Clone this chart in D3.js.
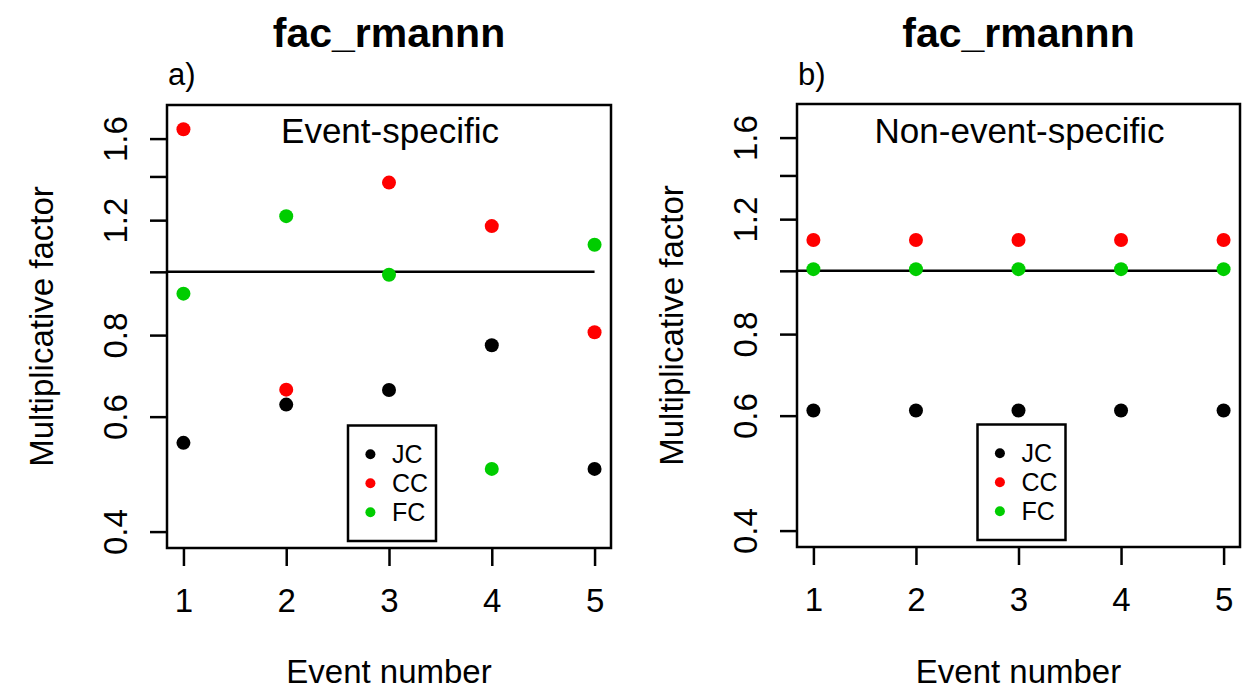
<!DOCTYPE html>
<html>
<head>
<meta charset="utf-8">
<script src="https://cdn.jsdelivr.net/npm/d3@7"></script>
<style>
  html, body { margin: 0; padding: 0; background: #fff; }
  svg { display: block; font-family: "Liberation Sans", Arial, Helvetica, sans-serif; }
</style>
</head>
<body>
<svg id="chart" width="1248" height="696"></svg>
<script>
// Event numbers on the x axis
const events = [1, 2, 3, 4, 5];

// Event-specific multiplicative factors
const specificJC = [0.547, 0.626, 0.659, 0.772, 0.499];
const specificCC = [1.654, 0.660, 1.370, 1.175, 0.808];
const specificFC = [0.926, 1.217, 0.990, 0.499, 1.100];

// Non-event-specific multiplicative factors
const nonSpecificJC = [0.611, 0.611, 0.611, 0.611, 0.611];
const nonSpecificCC = [1.115, 1.115, 1.115, 1.115, 1.115];
const nonSpecificFC = [1.006, 1.006, 1.006, 1.006, 1.006];

// Series names and colours
const seriesNames = ["JC", "CC", "FC"];
const seriesColors = ["#000000", "#ff0000", "#00cd00"];

// Y axis ticks (log scale); labels only where they fit
const yTicks = [0.4, 0.6, 0.8, 1.0, 1.2, 1.4, 1.6];
const yTickLabels = ["0.4", "0.6", "0.8", "", "1.2", "", "1.6"];
const yLimits = [0.4, 1.7];
const referenceLevel = 1.0;

const panels = [
  { tag: "a)", title: "fac_rmannn", note: "Event-specific",
    series: [specificJC, specificCC, specificFC],
    left: 167, right: 611, top: 105, bottom: 548 },
  { tag: "b)", title: "fac_rmannn", note: "Non-event-specific",
    series: [nonSpecificJC, nonSpecificCC, nonSpecificFC],
    left: 797, right: 1240, top: 104, bottom: 547 }
];

const svg = d3.select("#chart");
const font = 33;
const lineW = 2.5;

panels.forEach(p => {
  // R-style 4% padding around the data limits
  const xPad = (events[events.length - 1] - events[0]) * 0.04;
  const x = d3.scaleLinear()
    .domain([events[0] - xPad, events[events.length - 1] + xPad])
    .range([p.left, p.right]);
  const lLo = Math.log(yLimits[0]), lHi = Math.log(yLimits[1]);
  const lPad = (lHi - lLo) * 0.04;
  const y = d3.scaleLog()
    .domain([Math.exp(lLo - lPad), Math.exp(lHi + lPad)])
    .range([p.bottom, p.top]);

  const g = svg.append("g");
  const cx = (p.left + p.right) / 2;

  // Title
  g.append("text")
    .attr("x", cx).attr("y", 46.5)
    .attr("text-anchor", "middle")
    .attr("font-weight", "bold")
    .attr("font-size", 41)
    .text(p.title);

  // Panel tag
  g.append("text")
    .attr("x", p.left + 1).attr("y", 85)
    .attr("font-size", 31)
    .text(p.tag);

  // Y axis
  const yAxis = g.append("g")
    .attr("transform", `translate(${p.left},0)`)
    .call(d3.axisLeft(y)
      .tickValues(yTicks)
      .tickSize(17)
      .tickFormat((d, i) => yTickLabels[i]));
  yAxis.select(".domain").remove();
  yAxis.selectAll(".tick line").attr("stroke", "#000").attr("stroke-width", lineW);
  yAxis.selectAll(".tick text")
    .attr("transform", "rotate(-90)")
    .attr("x", 0).attr("y", -40).attr("dy", 0)
    .attr("text-anchor", "middle")
    .attr("font-size", font)
    .attr("font-family", null)
    .attr("fill", "#000");

  // X axis
  const xAxis = g.append("g")
    .attr("transform", `translate(0,${p.bottom})`)
    .call(d3.axisBottom(x)
      .tickValues(events)
      .tickSize(18)
      .tickFormat(d3.format("d")));
  xAxis.select(".domain").remove();
  xAxis.selectAll(".tick line").attr("stroke", "#000").attr("stroke-width", lineW);
  xAxis.selectAll(".tick text")
    .attr("y", 63.5).attr("dy", 0)
    .attr("font-size", font)
    .attr("font-family", null)
    .attr("fill", "#000");

  // Axis titles
  g.append("text")
    .attr("transform", `translate(${p.left - 114},${(p.top + p.bottom) / 2}) rotate(-90)`)
    .attr("text-anchor", "middle")
    .attr("font-size", font)
    .text("Multiplicative factor");
  g.append("text")
    .attr("x", cx).attr("y", 683)
    .attr("text-anchor", "middle")
    .attr("font-size", font)
    .text("Event number");

  // Reference line at a factor of 1
  g.append("line")
    .attr("x1", p.left).attr("x2", x(events[events.length - 1]))
    .attr("y1", y(referenceLevel)).attr("y2", y(referenceLevel))
    .attr("stroke", "#000").attr("stroke-width", lineW);

  // Plot frame
  g.append("rect")
    .attr("x", p.left).attr("y", p.top)
    .attr("width", p.right - p.left).attr("height", p.bottom - p.top)
    .attr("fill", "none").attr("stroke", "#000").attr("stroke-width", lineW);

  // Note inside plot
  g.append("text")
    .attr("x", x(3) + 1).attr("y", 143.3)
    .attr("text-anchor", "middle")
    .attr("font-size", 35)
    .text(p.note);

  // Points
  p.series.forEach((vals, si) => {
    g.append("g").selectAll("circle")
      .data(vals)
      .join("circle")
      .attr("cx", (d, i) => x(events[i]))
      .attr("cy", d => y(d))
      .attr("r", 7)
      .attr("fill", seriesColors[si]);
  });

  // Legend
  const lw = 88, lh = 115.5;
  const lx = x(3) - 41, ly = p.bottom - 7 - lh;
  const leg = g.append("g").attr("transform", `translate(${lx},${ly})`);
  leg.append("rect")
    .attr("width", lw).attr("height", lh)
    .attr("fill", "#fff").attr("stroke", "#000").attr("stroke-width", lineW);
  seriesNames.forEach((name, i) => {
    const yy = 28.8 + i * 29;
    leg.append("circle")
      .attr("cx", 22.4).attr("cy", yy).attr("r", 5)
      .attr("fill", seriesColors[i]);
    leg.append("text")
      .attr("x", 44).attr("y", yy).attr("dy", "0.36em")
      .attr("font-size", 25)
      .text(name);
  });
});
</script>
</body>
</html>
